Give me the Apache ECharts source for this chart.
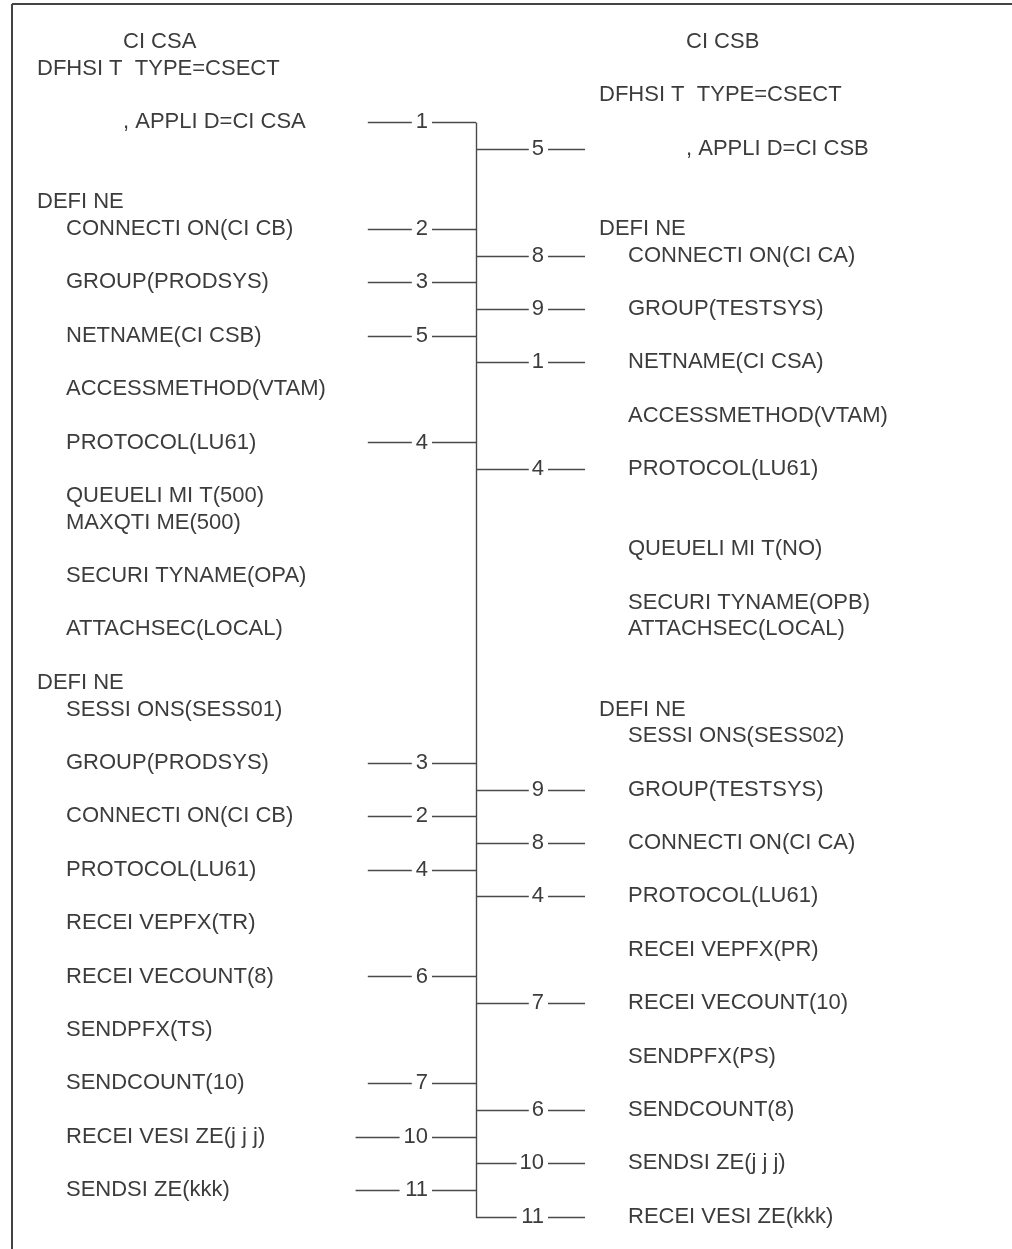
<!DOCTYPE html>
<html>
<head>
<meta charset="utf-8">
<script src="https://cdn.jsdelivr.net/npm/echarts@6/dist/echarts.min.js"></script>
<style>
html,body{margin:0;padding:0;background:#fff;}
#chart{width:1012px;height:1249px;}
</style>
</head>
<body>
<div id="chart"></div>
<script>
// ---- Data ----
const leftRows = [0,1,3,6,7,9,11,13,15,17,18,20,22,24,25,27,29,31,33,35,37,39,41,43];
const leftText = ['CI CSA','DFHSI T  TYPE=CSECT',', APPLI D=CI CSA','DEFI NE','CONNECTI ON(CI CB)','GROUP(PRODSYS)','NETNAME(CI CSB)','ACCESSMETHOD(VTAM)','PROTOCOL(LU61)','QUEUELI MI T(500)','MAXQTI ME(500)','SECURI TYNAME(OPA)','ATTACHSEC(LOCAL)','DEFI NE','SESSI ONS(SESS01)','GROUP(PRODSYS)','CONNECTI ON(CI CB)','PROTOCOL(LU61)','RECEI VEPFX(TR)','RECEI VECOUNT(8)','SENDPFX(TS)','SENDCOUNT(10)','RECEI VESI ZE(j j j)','SENDSI ZE(kkk)'];
const rightRows = [0,2,4,7,8,10,12,14,16,19,21,22,25,26,28,30,32,34,36,38,40,42,44];
const rightText = ['CI CSB','DFHSI T  TYPE=CSECT',', APPLI D=CI CSB','DEFI NE','CONNECTI ON(CI CA)','GROUP(TESTSYS)','NETNAME(CI CSA)','ACCESSMETHOD(VTAM)','PROTOCOL(LU61)','QUEUELI MI T(NO)','SECURI TYNAME(OPB)','ATTACHSEC(LOCAL)','DEFI NE','SESSI ONS(SESS02)','GROUP(TESTSYS)','CONNECTI ON(CI CA)','PROTOCOL(LU61)','RECEI VEPFX(PR)','RECEI VECOUNT(10)','SENDPFX(PS)','SENDCOUNT(8)','SENDSI ZE(j j j)','RECEI VESI ZE(kkk)'];
const leftLinkRows = [3,7,9,11,15,27,29,31,35,39,41,43];
const leftLinkLabels = ['1','2','3','5','4','3','2','4','6','7','10','11'];
const rightLinkRows = [4,8,10,12,16,28,30,32,36,40,42,44];
const rightLinkLabels = ['5','8','9','1','4','9','8','4','7','6','10','11'];

// ---- Layout ----
const W = 1012, H = 1249;
const ROW0 = 42, ROWH = 26.7;
const FONT = '22px "Liberation Sans", Arial, sans-serif';
const TXT = '#3c3c3c', LINE = '#4a4a4a';
const leftCols = [37, 66, 123];
const rightCols = [599, 628, 686];
const BUS_X = 476;
const DIGIT_W = 12.2;

function level(t) {
  if (t.indexOf('CI CS') === 0 || t.charAt(0) === ',') return 2;
  if (t.indexOf('DFHSI') === 0 || t.indexOf('DEFI') === 0) return 0;
  return 1;
}

const chart = echarts.init(document.getElementById('chart'), null, {renderer: 'canvas'});

function textSeries(rows, texts, cols) {
  return {
    type: 'custom',
    coordinateSystem: 'cartesian2d',
    data: rows.map((r, i) => [cols[level(texts[i])], r]),
    renderItem: function (params, api) {
      const p = api.coord([api.value(0), api.value(1)]);
      return {
        type: 'text',
        x: p[0], y: p[1],
        style: {text: texts[params.dataIndex], font: FONT, fill: TXT, align: 'left', verticalAlign: 'middle'}
      };
    },
    silent: true
  };
}

function linkSeries(rows, labels, side) {
  return {
    type: 'custom',
    coordinateSystem: 'cartesian2d',
    data: rows.map(r => [BUS_X, r]),
    renderItem: function (params, api) {
      const p = api.coord([api.value(0), api.value(1)]);
      const lab = labels[params.dataIndex];
      const w = lab.length * DIGIT_W;
      const y = Math.round(p[1]) + 0.5;
      let children;
      if (side === 'left') {
        const right = p[0] - 48;
        children = [
          {type: 'line', shape: {x1: right - w - 48, y1: y, x2: right - w - 4, y2: y}, style: {stroke: LINE, lineWidth: 1.4}},
          {type: 'text', x: right, y: p[1], style: {text: lab, font: FONT, fill: TXT, align: 'right', verticalAlign: 'middle'}},
          {type: 'line', shape: {x1: right + 4, y1: y, x2: p[0], y2: y}, style: {stroke: LINE, lineWidth: 1.4}}
        ];
      } else {
        const right = p[0] + 68;
        children = [
          {type: 'line', shape: {x1: p[0], y1: y, x2: right - w - 3, y2: y}, style: {stroke: LINE, lineWidth: 1.4}},
          {type: 'text', x: right, y: p[1], style: {text: lab, font: FONT, fill: TXT, align: 'right', verticalAlign: 'middle'}},
          {type: 'line', shape: {x1: right + 4, y1: y, x2: right + 41, y2: y}, style: {stroke: LINE, lineWidth: 1.4}}
        ];
      }
      return {type: 'group', children: children};
    },
    silent: true
  };
}

const busStart = Math.min(leftLinkRows[0], rightLinkRows[0]);
const busEnd = Math.max(leftLinkRows[leftLinkRows.length - 1], rightLinkRows[rightLinkRows.length - 1]);

const option = {
  animation: false,
  backgroundColor: '#fff',
  grid: {left: 0, right: 0, top: 0, bottom: 0},
  xAxis: {type: 'value', min: 0, max: W, show: false},
  yAxis: {type: 'value', inverse: true, min: -ROW0 / ROWH, max: (H - ROW0) / ROWH, show: false},
  graphic: [
    {type: 'line', shape: {x1: 12, y1: 4, x2: W, y2: 4}, style: {stroke: '#444', lineWidth: 2}},
    {type: 'line', shape: {x1: 12, y1: 4, x2: 12, y2: H}, style: {stroke: '#444', lineWidth: 2}}
  ],
  series: [
    textSeries(leftRows, leftText, leftCols),
    textSeries(rightRows, rightText, rightCols),
    linkSeries(leftLinkRows, leftLinkLabels, 'left'),
    linkSeries(rightLinkRows, rightLinkLabels, 'right'),
    {
      type: 'custom',
      coordinateSystem: 'cartesian2d',
      data: [[BUS_X, busStart, busEnd]],
      renderItem: function (params, api) {
        const a = api.coord([api.value(0), api.value(1)]);
        const b = api.coord([api.value(0), api.value(2)]);
        const x = Math.round(a[0]) + 0.5;
        return {type: 'line', shape: {x1: x, y1: Math.round(a[1]) + 0.5, x2: x, y2: Math.round(b[1]) + 0.5}, style: {stroke: LINE, lineWidth: 1.4}};
      },
      silent: true
    }
  ]
};
chart.setOption(option);
</script>
</body>
</html>
